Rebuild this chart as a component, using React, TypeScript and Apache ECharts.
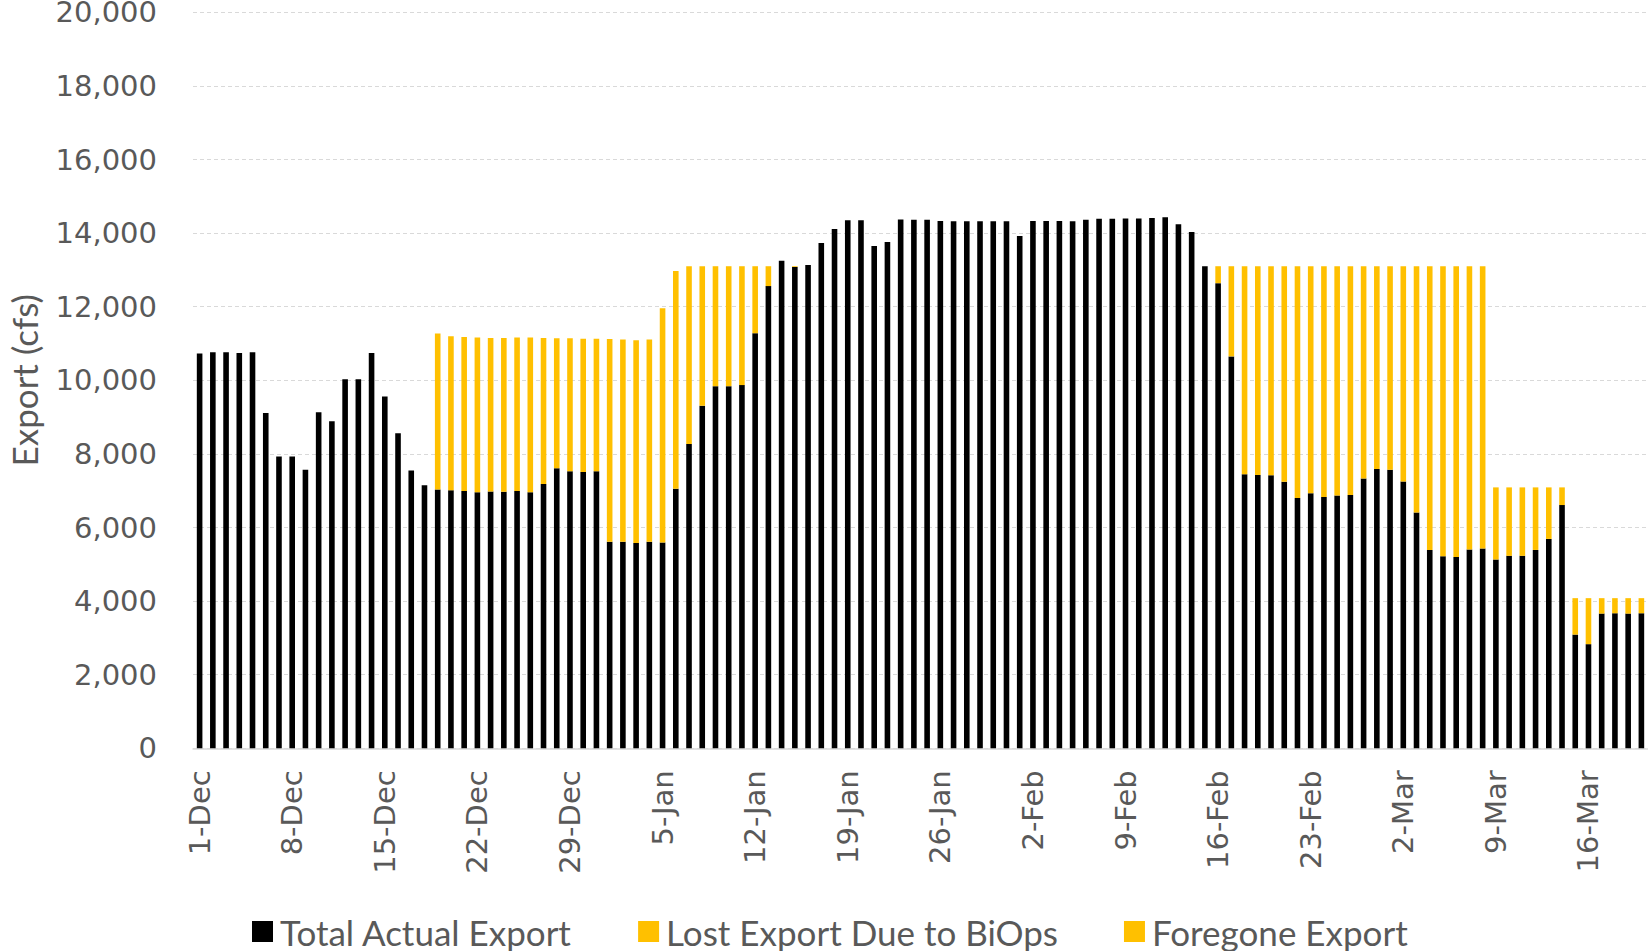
import React, { useEffect, useRef } from "react";
import * as echarts from "echarts";

const N = null;

const decDays = ["1-Dec","2-Dec","3-Dec","4-Dec","5-Dec","6-Dec","7-Dec","8-Dec","9-Dec","10-Dec","11-Dec","12-Dec","13-Dec","14-Dec","15-Dec","16-Dec","17-Dec","18-Dec","19-Dec","20-Dec","21-Dec","22-Dec","23-Dec","24-Dec","25-Dec","26-Dec","27-Dec","28-Dec","29-Dec","30-Dec","31-Dec"];
const janDays = ["1-Jan","2-Jan","3-Jan","4-Jan","5-Jan","6-Jan","7-Jan","8-Jan","9-Jan","10-Jan","11-Jan","12-Jan","13-Jan","14-Jan","15-Jan","16-Jan","17-Jan","18-Jan","19-Jan","20-Jan","21-Jan","22-Jan","23-Jan","24-Jan","25-Jan","26-Jan","27-Jan","28-Jan","29-Jan","30-Jan","31-Jan"];
const febDays = ["1-Feb","2-Feb","3-Feb","4-Feb","5-Feb","6-Feb","7-Feb","8-Feb","9-Feb","10-Feb","11-Feb","12-Feb","13-Feb","14-Feb","15-Feb","16-Feb","17-Feb","18-Feb","19-Feb","20-Feb","21-Feb","22-Feb","23-Feb","24-Feb","25-Feb","26-Feb","27-Feb","28-Feb"];
const marDays = ["1-Mar","2-Mar","3-Mar","4-Mar","5-Mar","6-Mar","7-Mar","8-Mar","9-Mar","10-Mar","11-Mar","12-Mar","13-Mar","14-Mar","15-Mar","16-Mar","17-Mar","18-Mar","19-Mar","20-Mar"];
const categories = [...decDays, ...janDays, ...febDays, ...marDays];

// Total Actual Export (black)
const actualDec = [10730,10760,10760,10740,10760,9110,7930,7930,7570,9130,8890,10030,10030,10740,9560,8560,7550,7150,7030,7010,6990,6960,6980,6970,6990,6960,7180,7610,7530,7510,7530];
const actualJan = [5610,5610,5580,5610,5590,7050,8270,9310,9840,9840,9870,11280,12560,13250,13080,13130,13730,14110,14350,14350,13650,13760,14370,14360,14360,14330,14320,14320,14320,14320,14320];
const actualFeb = [13920,14330,14330,14330,14320,14360,14390,14390,14400,14400,14410,14430,14240,14030,13100,12640,10650,7450,7430,7420,7240,6800,6930,6830,6870,6880,7330,7590];
const actualMar = [7570,7250,6410,5390,5220,5200,5400,5430,5130,5230,5230,5390,5690,6610,3090,2830,3660,3670,3660,3670];

// Lost Export Due to BiOps (yellow)
const lostDec = [N,N,N,N,N,N,N,N,N,N,N,N,N,N,N,N,N,N,4240,4190,4190,4200,4170,4180,4170,4200,3970,3530,3610,3620,3600];
const lostJan = [5510,5500,5510,5500,6370,5920,4830,3790,3260,3260,3230,1820,540,N,20,N,N,N,N,N,N,N,N,N,N,N,N,N,N,N,N];
const lostFeb = [N,N,N,N,N,N,N,N,N,N,N,N,N,N,N,N,N,N,N,N,N,N,N,N,N,N,N,N];
const lostMar = [N,N,N,N,N,N,N,N,N,N,N,N,N,N,N,N,N,N,N,N];

// Foregone Export (yellow)
const foregoneDec = [N,N,N,N,N,N,N,N,N,N,N,N,N,N,N,N,N,N,N,N,N,N,N,N,N,N,N,N,N,N,N];
const foregoneJan = [N,N,N,N,N,N,N,N,N,N,N,N,N,N,N,N,N,N,N,N,N,N,N,N,N,N,N,N,N,N,N];
const foregoneFeb = [N,N,N,N,N,N,N,N,N,N,N,N,N,N,N,460,2450,5650,5670,5680,5860,6300,6170,6270,6230,6220,5770,5510];
const foregoneMar = [5530,5850,6690,7710,7880,7900,7700,7670,1960,1860,1860,1700,1400,480,990,1250,420,410,420,410];

const actual = [...actualDec, ...actualJan, ...actualFeb, ...actualMar];
const lost = [...lostDec, ...lostJan, ...lostFeb, ...lostMar];
const foregone = [...foregoneDec, ...foregoneJan, ...foregoneFeb, ...foregoneMar];

const TEXT = "#595959";
const GRIDC = "#D9D9D9";
const YELLOW = "#FFC000";

export default function App() {
  const ref = useRef<HTMLDivElement>(null);
  useEffect(() => {
    if (!ref.current) return;
    const chart = echarts.init(ref.current, null, { renderer: "svg" });
    chart.setOption({
      animation: false,
      backgroundColor: "#ffffff",
      grid: {
        left: 193,
        right: 0,
        top: 12.3,
        bottom: 202.7,
        containLabel: false,
        outerBoundsMode: "none",
      },
      legend: {
        left: 247,
        top: 909,
        itemWidth: 21,
        itemHeight: 21,
        itemGap: 66,
        icon: "rect",
        textStyle: { color: TEXT, fontFamily: "Lato", fontSize: 35, padding: [0, 0, 0, 2] },
        data: ["Total Actual Export", "Lost Export Due to BiOps", "Foregone Export"],
      },
      xAxis: {
        type: "category",
        data: categories,
        axisLine: { show: true, lineStyle: { color: GRIDC, width: 1.5 } },
        axisTick: { show: false },
        axisLabel: {
          interval: 6,
          rotate: 90,
          margin: 22,
          color: TEXT,
          fontFamily: "DejaVu Sans",
          fontSize: 29,
        },
      },
      yAxis: {
        type: "value",
        min: 0,
        max: 20000,
        interval: 2000,
        name: "Export (cfs)",
        nameLocation: "middle",
        nameGap: 151,
        nameTextStyle: { color: TEXT, fontFamily: "Lato", fontSize: 35, lineHeight: 36 },
        axisLine: { show: false },
        axisTick: { show: false },
        axisLabel: {
          margin: 36,
          color: TEXT,
          fontFamily: "DejaVu Sans",
          fontSize: 29,
          lineHeight: 24,
          formatter: (v: number) => v.toLocaleString("en-US"),
        },
        splitLine: { show: true, lineStyle: { color: GRIDC, width: 1, type: [4, 3] } },
      },
      series: [
        {
          name: "Total Actual Export",
          type: "bar",
          stack: "exp",
          data: actual,
          barWidth: 5.6,
          itemStyle: { color: "#000000" },
        },
        {
          name: "Lost Export Due to BiOps",
          type: "bar",
          stack: "exp",
          data: lost,
          barWidth: 5.6,
          itemStyle: { color: YELLOW },
        },
        {
          name: "Foregone Export",
          type: "bar",
          stack: "exp",
          data: foregone,
          barWidth: 5.6,
          itemStyle: { color: YELLOW },
        },
      ],
    });
    return () => chart.dispose();
  }, []);
  return (
    <div
      ref={ref}
      style={{ position: "fixed", left: 0, top: 0, width: 1648, height: 951, background: "#fff" }}
    />
  );
}
